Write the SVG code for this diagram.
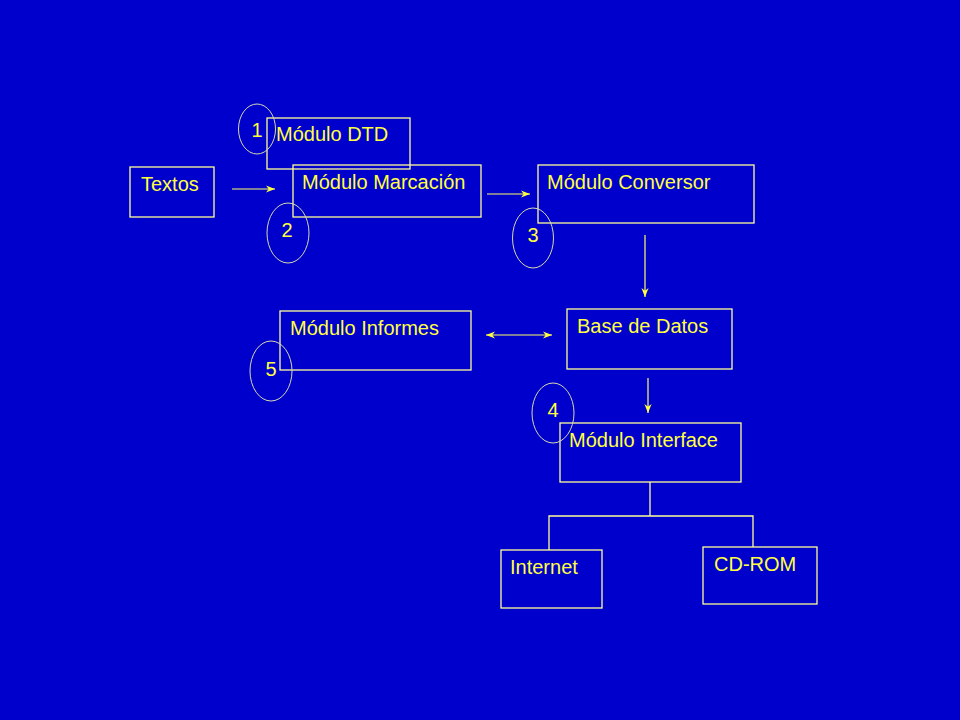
<svg xmlns="http://www.w3.org/2000/svg" width="960" height="720" viewBox="0 0 960 720">
<defs>
<style>
.box{fill:none;stroke:#FFFF99;stroke-width:1.3}
.ell{fill:none;stroke:#D8D8B0;stroke-width:1}
.t{font-family:"Liberation Sans",Arial,sans-serif;font-size:20px;fill:#FFFF40}
.n{font-family:"Liberation Sans",Arial,sans-serif;font-size:20px;fill:#FFFF40;text-anchor:middle}
.c{fill:none;stroke:#FFFF66;stroke-width:1.2}
</style>
<marker id="ah" viewBox="0 0 10 10" refX="10" refY="5" markerWidth="9" markerHeight="9" markerUnits="userSpaceOnUse" orient="auto-start-reverse">
<path d="M0,1 L10,5 L0,9 L3,5 Z" fill="#FFFF40"/>
</marker>
</defs>
<rect width="960" height="720" fill="#0000CC"/>
<g id="connectors">
<line class="c" x1="232" y1="189" x2="275" y2="189" marker-end="url(#ah)"/>
<line class="c" x1="487" y1="194" x2="530" y2="194" marker-end="url(#ah)"/>
<line class="c" x1="645" y1="235" x2="645" y2="297" marker-end="url(#ah)"/>
<line class="c" x1="486" y1="335" x2="552" y2="335" marker-start="url(#ah)" marker-end="url(#ah)"/>
<line class="c" x1="648" y1="378" x2="648" y2="413" marker-end="url(#ah)"/>
<polyline class="box" points="650,482 650,516"/>
<polyline class="box" points="549,550 549,516 753,516 753,547"/>
</g>
<g id="textos">
<rect class="box" x="130" y="167" width="84" height="50"/>
<text class="t" x="141" y="191">Textos</text>
</g>
<g id="dtd">
<rect class="box" x="267" y="118" width="143" height="51"/>
<text class="t" x="276" y="141">Módulo DTD</text>
</g>
<g id="marcacion">
<rect class="box" x="293" y="165" width="188" height="52"/>
<text class="t" x="302" y="189">Módulo Marcación</text>
</g>
<g id="conversor">
<rect class="box" x="538" y="165" width="216" height="58"/>
<text class="t" x="547" y="189">Módulo Conversor</text>
</g>
<g id="base">
<rect class="box" x="567" y="309" width="165" height="60"/>
<text class="t" x="577" y="333">Base de Datos</text>
</g>
<g id="informes">
<rect class="box" x="280" y="311" width="191" height="59"/>
<text class="t" x="290" y="335">Módulo Informes</text>
</g>
<g id="interface">
<rect class="box" x="560" y="423" width="181" height="59"/>
<text class="t" x="569" y="447">Módulo Interface</text>
</g>
<g id="internet">
<rect class="box" x="501" y="550" width="101" height="58"/>
<text class="t" x="510" y="574">Internet</text>
</g>
<g id="cdrom">
<rect class="box" x="703" y="547" width="114" height="57"/>
<text class="t" x="714" y="571">CD-ROM</text>
</g>
<g id="n1">
<ellipse class="ell" cx="257" cy="129" rx="18.5" ry="25"/>
<text class="n" x="257" y="137">1</text>
</g>
<g id="n2">
<ellipse class="ell" cx="288" cy="233" rx="21" ry="30"/>
<text class="n" x="287" y="237">2</text>
</g>
<g id="n3">
<ellipse class="ell" cx="533" cy="238" rx="20.5" ry="30"/>
<text class="n" x="533" y="242">3</text>
</g>
<g id="n4">
<ellipse class="ell" cx="553" cy="413" rx="21" ry="30"/>
<text class="n" x="553" y="417">4</text>
</g>
<g id="n5">
<ellipse class="ell" cx="271" cy="371" rx="21" ry="30"/>
<text class="n" x="271" y="376">5</text>
</g>
</svg>
